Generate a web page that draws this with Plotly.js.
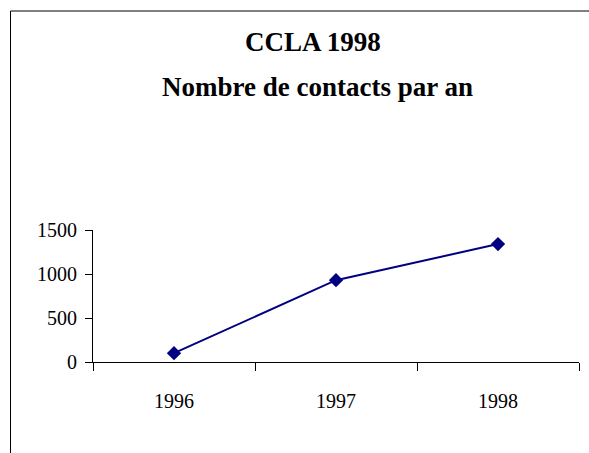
<!DOCTYPE html>
<html>
<head>
<meta charset="utf-8">
<script src="https://cdn.plot.ly/plotly-3.0.1.min.js"></script>
<style>html,body{margin:0;padding:0;background:#fff;}</style>
</head>
<body>
<div id="chart" style="width:589px;height:453px;"></div>
<script>
const years = ["1996", "1997", "1998"];
const contacts = [100, 930, 1340];
const yTicks = [0, 500, 1000, 1500];
const titleLine1 = "CCLA 1998";
const titleLine2 = "Nombre de contacts par an";

const W = 589, H = 453;
const m = {l: 93, r: 10, t: 230, b: 91};
const pw = W - m.l - m.r, ph = H - m.t - m.b;
const px = x => (x - m.l) / pw;
const py = y => (H - m.b - y) / ph;

const font = "Liberation Serif, Times New Roman, serif";

const trace = {
  x: years, y: contacts, type: "scatter", mode: "lines+markers",
  line: {color: "#000080", width: 2},
  marker: {symbol: "diamond", size: 11, color: "#000080"},
  hoverinfo: "skip"
};

const layout = {
  width: W, height: H,
  margin: m,
  paper_bgcolor: "#fff", plot_bgcolor: "#fff",
  showlegend: false,
  font: {family: font, color: "#000", size: 20},
  xaxis: {
    type: "category", tickson: "boundaries",
    range: [-0.5, 2.5],
    showline: true, linecolor: "#000", linewidth: 1,
    ticks: "outside", ticklen: 8, tickcolor: "#000", tickwidth: 1,
    showgrid: false, zeroline: false,
    ticklabelstandoff: 21,
    tickfont: {family: font, size: 20, color: "#000"}
  },
  yaxis: {
    range: [0, 1500], tickvals: yTicks, ticktext: yTicks.map(String),
    showline: true, linecolor: "#000", linewidth: 1,
    ticks: "outside", ticklen: 7, tickcolor: "#000", tickwidth: 1,
    showgrid: false, zeroline: false,
    ticklabelstandoff: 4,
    tickfont: {family: font, size: 20, color: "#000"}
  },
  annotations: [
    {text: "<b>" + titleLine1 + "</b>", xref: "paper", yref: "paper",
     x: px(313), y: py(42), xanchor: "center", yanchor: "middle", showarrow: false,
     font: {family: font, size: 27, color: "#000"}},
    {text: "<b>" + titleLine2 + "</b>", xref: "paper", yref: "paper",
     x: px(317), y: py(87), xanchor: "center", yanchor: "middle", showarrow: false,
     font: {family: font, size: 27, color: "#000"}}
  ],
  shapes: [
    {type: "line", xref: "paper", yref: "paper", x0: px(10.5), x1: px(10.5), y0: py(11), y1: py(460),
     line: {color: "#000", width: 1}},
    {type: "line", xref: "paper", yref: "paper", x0: px(10.5), x1: px(600), y0: py(11), y1: py(11),
     line: {color: "#000", width: 1}}
  ]
};

Plotly.newPlot("chart", [trace], layout, {displayModeBar: false, staticPlot: true});
</script>
</body>
</html>
